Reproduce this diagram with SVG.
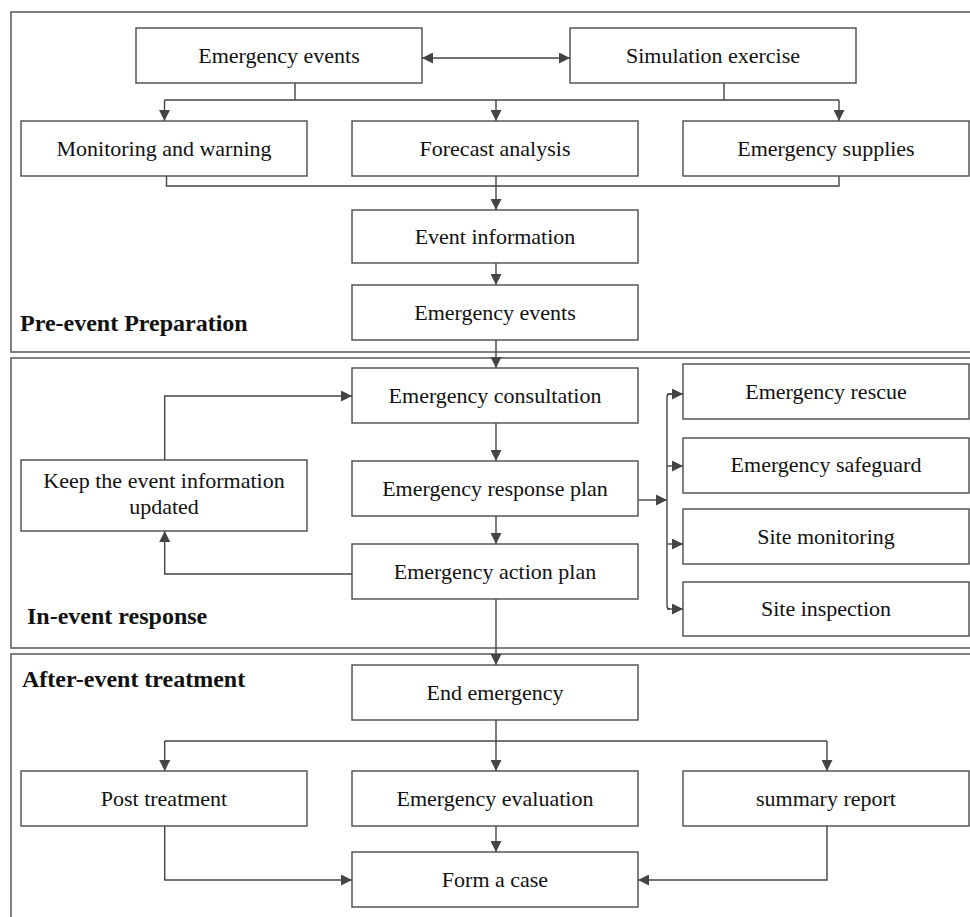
<svg xmlns="http://www.w3.org/2000/svg" width="970" height="917" viewBox="0 0 970 917">
<style>
.sec{fill:none;stroke:#555;stroke-width:1.5}
.box{fill:#fff;stroke:#4a4a4a;stroke-width:1.4}
.t{font-family:"Liberation Serif","Times New Roman",serif;font-size:22px;fill:#111;text-anchor:middle}
.lbl{font-family:"Liberation Serif","Times New Roman",serif;font-size:24px;font-weight:bold;fill:#111}
.c{fill:none;stroke:#444;stroke-width:1.4}
.a{marker-end:url(#ah)}
</style>
<defs>
<marker id="ah" viewBox="0 0 10 10" refX="10" refY="5" markerWidth="11" markerHeight="11" markerUnits="userSpaceOnUse" orient="auto-start-reverse">
<path d="M0,0 L10,5 L0,10 z" fill="#444"/>
</marker>
</defs>
<rect width="970" height="917" fill="#fff"/>
<g id="sections">
<rect class="sec" x="11" y="12" width="980" height="340"/>
<rect class="sec" x="11" y="358" width="980" height="290"/>
<rect class="sec" x="11" y="654" width="980" height="300"/>
<text class="lbl" x="20" y="331">Pre-event Preparation</text>
<text class="lbl" x="27" y="624">In-event response</text>
<text class="lbl" x="22" y="687">After-event treatment</text>
</g>
<g id="connectors">
<line class="c" x1="422" y1="58" x2="570" y2="58" marker-start="url(#ah)" marker-end="url(#ah)"/>
<polyline class="c" points="295,83 295,100"/>
<polyline class="c" points="724,83 724,100"/>
<polyline class="c" points="164.5,100 839,100"/>
<line class="c a" x1="164.5" y1="100" x2="164.5" y2="121"/>
<line class="c a" x1="496" y1="100" x2="496" y2="121"/>
<line class="c a" x1="839" y1="100" x2="839" y2="121"/>
<polyline class="c" points="166.5,176 166.5,186 839,186 839,176"/>
<line class="c a" x1="496" y1="176" x2="496" y2="210"/>
<line class="c a" x1="496" y1="263" x2="496" y2="285"/>
<line class="c a" x1="496" y1="340" x2="496" y2="368"/>
<line class="c a" x1="496" y1="423" x2="496" y2="461"/>
<line class="c a" x1="496" y1="516" x2="496" y2="544"/>
<line class="c a" x1="496" y1="599" x2="496" y2="665"/>
<polyline class="c a" points="164.7,460 164.7,396 352,396"/>
<polyline class="c a" points="352,574 164.7,574 164.7,531"/>
<line class="c a" x1="638" y1="500" x2="667" y2="500"/>
<path class="c" d="M683,394 L670,394 Q667,394 667,397 L667,606 Q667,609 670,609"/>
<line class="c a" x1="667" y1="394" x2="683" y2="394"/>
<line class="c a" x1="667" y1="466" x2="683" y2="466"/>
<line class="c a" x1="667" y1="544" x2="683" y2="544"/>
<line class="c a" x1="667" y1="609" x2="683" y2="609"/>
<line class="c" x1="496" y1="720" x2="496" y2="741"/>
<polyline class="c" points="164.7,741 827,741"/>
<line class="c a" x1="164.7" y1="741" x2="164.7" y2="771"/>
<line class="c a" x1="496" y1="741" x2="496" y2="771"/>
<line class="c a" x1="827" y1="741" x2="827" y2="771"/>
<line class="c a" x1="496" y1="826" x2="496" y2="852"/>
<polyline class="c a" points="164.7,826 164.7,880 352,880"/>
<polyline class="c a" points="827,826 827,880 638,880"/>
</g>
<g id="n-emergency-events-1"><rect class="box" x="136" y="28" width="286" height="55"/><text class="t" x="279" y="63">Emergency events</text></g>
<g id="n-simulation"><rect class="box" x="570" y="28" width="286" height="55"/><text class="t" x="713" y="63">Simulation exercise</text></g>
<g id="n-monitoring"><rect class="box" x="21" y="121" width="286" height="55"/><text class="t" x="164" y="156">Monitoring and warning</text></g>
<g id="n-forecast"><rect class="box" x="352" y="121" width="286" height="55"/><text class="t" x="495" y="156">Forecast analysis</text></g>
<g id="n-supplies"><rect class="box" x="683" y="121" width="286" height="55"/><text class="t" x="826" y="156">Emergency supplies</text></g>
<g id="n-event-info"><rect class="box" x="352" y="210" width="286" height="53"/><text class="t" x="495" y="244">Event information</text></g>
<g id="n-emergency-events-2"><rect class="box" x="352" y="285" width="286" height="55"/><text class="t" x="495" y="320">Emergency events</text></g>
<g id="n-consultation"><rect class="box" x="352" y="368" width="286" height="55"/><text class="t" x="495" y="403">Emergency consultation</text></g>
<g id="n-response-plan"><rect class="box" x="352" y="461" width="286" height="55"/><text class="t" x="495" y="496">Emergency response plan</text></g>
<g id="n-action-plan"><rect class="box" x="352" y="544" width="286" height="55"/><text class="t" x="495" y="579">Emergency action plan</text></g>
<g id="n-keep-updated"><rect class="box" x="21" y="460" width="286" height="71"/><text class="t" x="164" y="488">Keep the event information</text><text class="t" x="164" y="514">updated</text></g>
<g id="n-rescue"><rect class="box" x="683" y="364" width="286" height="55"/><text class="t" x="826" y="399">Emergency rescue</text></g>
<g id="n-safeguard"><rect class="box" x="683" y="438" width="286" height="55"/><text class="t" x="826" y="472">Emergency safeguard</text></g>
<g id="n-site-monitoring"><rect class="box" x="683" y="509" width="286" height="55"/><text class="t" x="826" y="544">Site monitoring</text></g>
<g id="n-site-inspection"><rect class="box" x="683" y="582" width="286" height="54"/><text class="t" x="826" y="616">Site inspection</text></g>
<g id="n-end"><rect class="box" x="352" y="665" width="286" height="55"/><text class="t" x="495" y="700">End emergency</text></g>
<g id="n-post"><rect class="box" x="21" y="771" width="286" height="55"/><text class="t" x="164" y="806">Post treatment</text></g>
<g id="n-evaluation"><rect class="box" x="352" y="771" width="286" height="55"/><text class="t" x="495" y="806">Emergency evaluation</text></g>
<g id="n-summary"><rect class="box" x="683" y="771" width="286" height="55"/><text class="t" x="826" y="806">summary report</text></g>
<g id="n-form-case"><rect class="box" x="352" y="852" width="286" height="55"/><text class="t" x="495" y="887">Form a case</text></g>
</svg>
